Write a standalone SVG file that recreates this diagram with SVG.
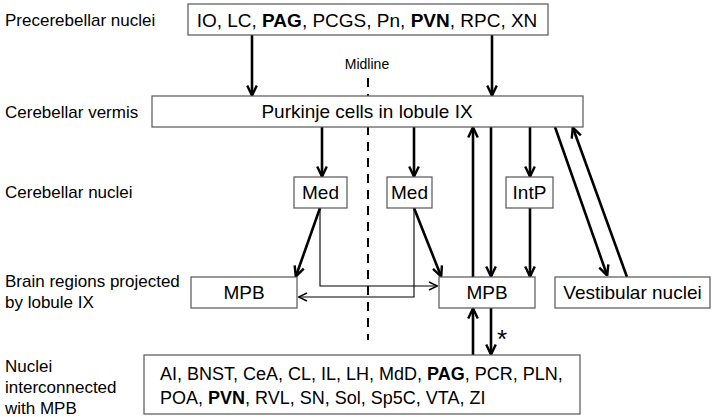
<svg xmlns="http://www.w3.org/2000/svg" width="714" height="417" viewBox="0 0 714 417">
<defs>
<marker id="big" viewBox="0 0 10 10" refX="9" refY="5" markerWidth="12" markerHeight="12" orient="auto" markerUnits="userSpaceOnUse"><path d="M1,1 L9.5,5 L1,9" fill="none" stroke="#000" stroke-width="2"/></marker>
<marker id="thin" viewBox="0 0 10 10" refX="9" refY="5" markerWidth="10" markerHeight="10" orient="auto-start-reverse" markerUnits="userSpaceOnUse"><path d="M1,1 L9.5,5 L1,9" fill="none" stroke="#000" stroke-width="1.4"/></marker>
</defs>
<style>
text{font-family:"Liberation Sans",Arial,sans-serif;fill:#000}
.lbl{font-size:17px}
.nt{font-size:19px;text-anchor:middle}
.box{fill:#fff;stroke:#555;stroke-width:1.2}
.th{stroke:#000;stroke-width:2.6;fill:none;marker-end:url(#big)}
.tn{stroke:#000;stroke-width:1.1;fill:none}
</style>
<rect width="714" height="417" fill="#fff"/>
<g id="labels" class="lbl">
<text x="5" y="26">Precerebellar nuclei</text>
<text x="5" y="118">Cerebellar vermis</text>
<text x="5" y="198">Cerebellar nuclei</text>
<text x="5" y="287">Brain regions projected</text>
<text x="5" y="308">by lobule IX</text>
<text x="5" y="372">Nuclei</text>
<text x="5" y="393">interconnected</text>
<text x="5" y="414">with MPB</text>
<text x="367" y="69" font-size="14" text-anchor="middle">Midline</text>
</g>
<line x1="368" y1="78" x2="368" y2="340" stroke="#000" stroke-width="2" stroke-dasharray="9,7"/>
<g id="connectors">
<line class="th" x1="252" y1="35" x2="252" y2="95"/>
<line class="th" x1="492" y1="35" x2="492" y2="95"/>
<line class="th" x1="322" y1="127" x2="322" y2="176"/>
<line class="th" x1="414" y1="127" x2="414" y2="176"/>
<line class="th" x1="530" y1="127" x2="530" y2="176"/>
<line class="th" x1="320" y1="208" x2="296" y2="276"/>
<line class="th" x1="414" y1="208" x2="441" y2="276"/>
<line class="th" x1="530" y1="208" x2="530" y2="276"/>
<line class="th" x1="473" y1="277" x2="473" y2="128"/>
<line class="th" x1="491" y1="127" x2="491" y2="276"/>
<line class="th" x1="555" y1="127" x2="607" y2="275"/>
<line class="th" x1="627" y1="277" x2="573" y2="128"/>
<line class="th" x1="473" y1="355" x2="473" y2="309"/>
<line class="th" x1="491" y1="308" x2="491" y2="354"/>
<polyline class="tn" points="320,208 320,286 437,286" marker-end="url(#thin)"/>
<polyline class="tn" points="414,208 414,297 299,297" marker-end="url(#thin)"/>
</g>
<text x="502" y="348" font-size="26" text-anchor="middle">*</text>
<g id="pre"><rect class="box" x="188" y="4" width="360" height="31"/>
<text class="nt" x="367" y="27">IO, LC, <tspan font-weight="bold">PAG</tspan>, PCGS, Pn, <tspan font-weight="bold">PVN</tspan>, RPC, XN</text></g>
<g id="purkinje"><rect class="box" x="152" y="96" width="431" height="31"/>
<text class="nt" x="367" y="118">Purkinje cells in lobule IX</text></g>
<g id="med1"><rect class="box" x="294" y="177" width="53" height="31"/><text class="nt" x="320.5" y="199">Med</text></g>
<g id="med2"><rect class="box" x="387" y="177" width="45" height="31"/><text class="nt" x="409.5" y="199">Med</text></g>
<g id="intp"><rect class="box" x="506" y="177" width="47" height="31"/><text class="nt" x="529.5" y="199">IntP</text></g>
<g id="mpbL"><rect class="box" x="191" y="277" width="106" height="31"/><text class="nt" x="244" y="299">MPB</text></g>
<g id="mpbR"><rect class="box" x="439" y="277" width="96" height="31"/><text class="nt" x="487" y="299">MPB</text></g>
<g id="vest"><rect class="box" x="555" y="277" width="155" height="31"/><text class="nt" x="632.5" y="299">Vestibular nuclei</text></g>
<g id="nuclei"><rect class="box" x="144" y="355" width="436" height="59"/>
<text font-size="18" x="160" y="380">AI, BNST, CeA, CL, IL, LH, MdD, <tspan font-weight="bold">PAG</tspan>, PCR, PLN,</text>
<text font-size="18" x="160" y="404">POA, <tspan font-weight="bold">PVN</tspan>, RVL, SN, Sol, Sp5C, VTA, ZI</text></g>
</svg>
